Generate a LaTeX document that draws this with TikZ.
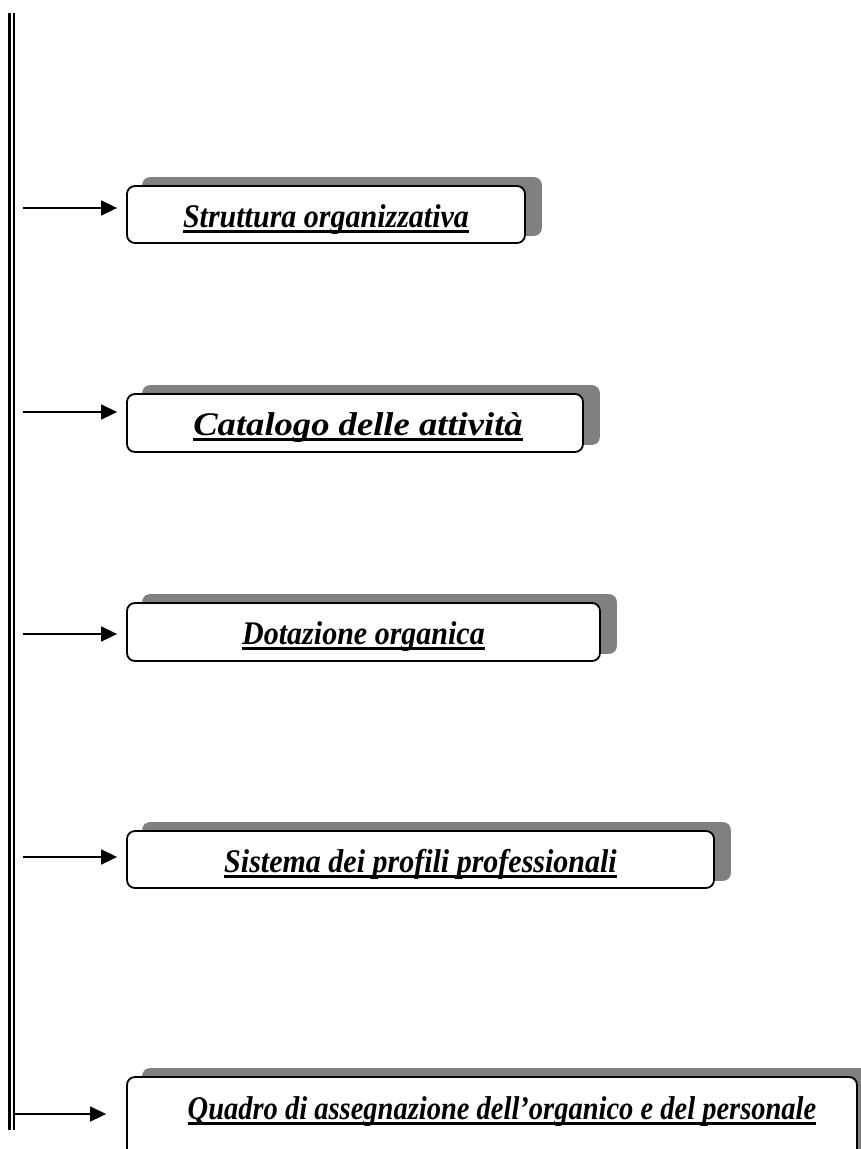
\documentclass[tikz,border=0pt]{standalone}
\usepackage{fontspec}
\usepackage{graphicx}
\setmainfont{Liberation Serif}
\usetikzlibrary{arrows.meta,backgrounds}
\definecolor{shadowgray}{RGB}{128,128,128}
\newcommand\myul[1]{\setbox0\hbox{#1}\rlap{\rule[-5pt]{\wd0}{2.4pt}}\box0}
\newcommand\mylbl[2][1]{\scalebox{#1}[1.1]{\myul{#2}}}
\tikzset{
  box/.style={draw=black, line width=1.8pt, rounded corners=8pt, fill=white, inner sep=0pt},
  lbl/.style={anchor=base, inner sep=0pt, font=\fontsize{30}{34}\selectfont\bfseries\itshape},
  arr/.style={line width=1.6pt, -{Triangle[length=16pt,width=15pt]}},
  shade/.style={fill=shadowgray, rounded corners=8pt},
  rail/.style={line width=2.7pt}
}
\begin{document}
\begin{tikzpicture}[x=1pt,y=-1pt]
\useasboundingbox (0,0) rectangle (861,1149);
% double vertical line
\coordinate (la) at (9.7,13);
\coordinate (lb) at (9.7,1130);
\coordinate (ra) at (14,13);
\coordinate (rb) at (14,1130);
\draw[rail] (la) -- (lb);
\draw[rail] (ra) -- (rb);
% boxes
\node[box, minimum width=398pt, minimum height=57pt] (b1) at (326,214.5) {};
\node[box, minimum width=456pt, minimum height=58pt] (b2) at (355,423) {};
\node[box, minimum width=473pt, minimum height=58pt] (b3) at (363.5,632) {};
\node[box, minimum width=587pt, minimum height=57pt] (b4) at (420.5,859.5) {};
\node[box, minimum width=730pt, minimum height=83pt] (b5) at (492,1118.5) {};
\begin{scope}[on background layer]
\foreach \b in {b1,b2,b3,b4,b5}{
  \fill[shade] ([shift={(16pt,8pt)}]\b.south west) rectangle ([shift={(16pt,8pt)}]\b.north east);
}
\end{scope}
% labels
\node[lbl] (t1) at ([yshift=-42pt]b1.north) {\mylbl{Struttura organizzativa}};
\node[lbl] (t2) at ([shift={(3pt,-42pt)}]b2.north) {\mylbl[1.22]{Catalogo delle attività}};
\node[lbl] (t3) at ([yshift=-42pt]b3.north) {\mylbl{Dotazione organica}};
\node[lbl] (t4) at ([yshift=-42pt]b4.north) {\mylbl{Sistema dei profili professionali}};
\node[lbl] (t5) at ([shift={(10pt,-43pt)}]b5.north) {\mylbl[0.95]{Quadro di assegnazione dell’organico e del personale}};
% arrows
\coordinate (s1) at (23,208);
\coordinate (s2) at (23,412);
\coordinate (s3) at (23,634);
\coordinate (s4) at (23,857);
\coordinate (s5) at (13,1114);
\draw[arr, shorten >=9pt] (s1) -- (s1 -| b1.west);
\draw[arr, shorten >=9pt] (s2) -- (s2 -| b2.west);
\draw[arr, shorten >=9pt] (s3) -- (s3 -| b3.west);
\draw[arr, shorten >=9pt] (s4) -- (s4 -| b4.west);
\draw[arr, shorten >=20pt] (s5) -- (s5 -| b5.west);
\end{tikzpicture}
\end{document}
